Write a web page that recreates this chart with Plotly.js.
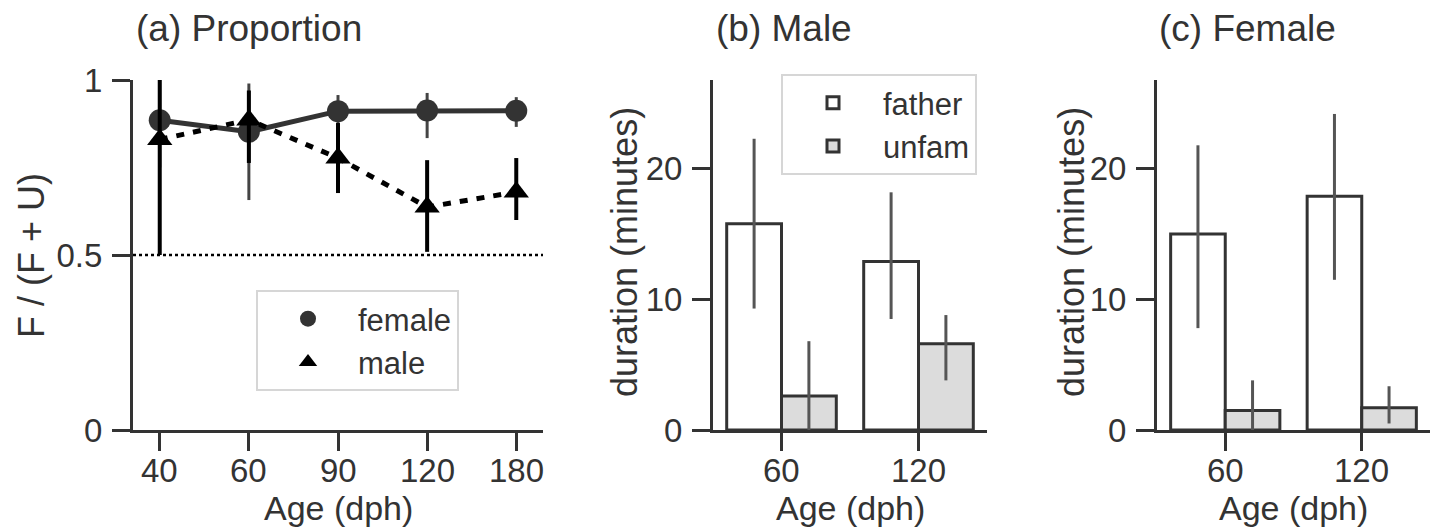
<!DOCTYPE html>
<html><head><meta charset="utf-8">
<script src="https://cdn.plot.ly/plotly-3.0.1.min.js"></script>
<style>html,body{margin:0;padding:0;background:#fff}#chart{width:1438px;height:529px}</style>
</head><body><div id="chart"></div>
<script>
// Panel (a) proportion data
const agesA = ['40', '60', '90', '120', '180'];
const femaleProp = [0.885, 0.852, 0.911, 0.913, 0.912];
const femaleLo   = [0.75, 0.657, 0.857, 0.834, 0.866];
const femaleHi   = [1.0, 0.99, 0.957, 0.963, 0.951];
const maleProp = [0.83, 0.886, 0.777, 0.637, 0.68];
const maleLo   = [0.5, 0.763, 0.677, 0.509, 0.6];
const maleHi   = [1.0, 0.97, 0.877, 0.771, 0.777];

// Panels (b),(c) duration data
const agesB = ['60', '120'];
const maleFather = [15.8, 12.9];
const maleFatherLo = [9.3, 8.5];
const maleFatherHi = [22.3, 18.2];
const maleUnfam = [2.6, 6.6];
const maleUnfamLo = [0.0, 3.8];
const maleUnfamHi = [6.8, 8.8];
const femaleFather = [15.0, 17.9];
const femaleFatherLo = [7.8, 11.5];
const femaleFatherHi = [21.8, 24.2];
const femaleUnfam = [1.5, 1.7];
const femaleUnfamLo = [0.0, 0.5];
const femaleUnfamHi = [3.8, 3.35];

// Tick labels
const propTicks = [0, 0.5, 1];
const propTickText = ['0', '0.5', '1'];
const durTicks = [0, 10, 20];
const durTickText = ['0', '10', '20'];

const FONT = 'Liberation Sans, Arial, sans-serif';
const INK = '#333333';

function errs(v, lo, hi, color, thick) {
  return {type: 'data', symmetric: false,
    array: hi.map((h, i) => h - v[i]),
    arrayminus: lo.map((l, i) => v[i] - l),
    width: 0, thickness: thick, color: color};
}

const traces = [
  {x: agesA, y: femaleProp, xaxis: 'x', yaxis: 'y', name: 'female', type: 'scatter', mode: 'lines+markers',
   line: {color: INK, width: 5}, marker: {symbol: 'circle', size: 22, color: INK},
   error_y: errs(femaleProp, femaleLo, femaleHi, '#444', 3), showlegend: false},
  {x: agesA, y: maleProp, xaxis: 'x', yaxis: 'y', name: 'male', type: 'scatter', mode: 'lines+markers',
   line: {color: '#000', width: 5, dash: '8px,9px'}, marker: {symbol: 'triangle-up', size: 22, color: '#000'},
   error_y: errs(maleProp, maleLo, maleHi, '#000', 4), showlegend: false},
  // legend entries for panel (a): markers only, as in the reference
  {x: [null], y: [null], xaxis: 'x', yaxis: 'y', name: 'female', type: 'scatter', mode: 'markers',
   marker: {symbol: 'circle', size: 22, color: INK}, legend: 'legend', legendgroup: 'f'},
  {x: [null], y: [null], xaxis: 'x', yaxis: 'y', name: 'male', type: 'scatter', mode: 'markers',
   marker: {symbol: 'triangle-up', size: 22, color: '#000'}, legend: 'legend', legendgroup: 'm'},
  {x: agesB, y: maleFather, xaxis: 'x2', yaxis: 'y2', name: 'father', type: 'bar',
   marker: {color: '#ffffff', line: {color: INK, width: 3}}, legendgroup: 'fa',
   error_y: errs(maleFather, maleFatherLo, maleFatherHi, '#555', 3), legend: 'legend2'},
  {x: agesB, y: maleUnfam, xaxis: 'x2', yaxis: 'y2', name: 'unfam', type: 'bar',
   marker: {color: '#dcdcdc', line: {color: INK, width: 3}}, legendgroup: 'un',
   error_y: errs(maleUnfam, maleUnfamLo, maleUnfamHi, '#555', 3), legend: 'legend2'},
  {x: agesB, y: femaleFather, xaxis: 'x3', yaxis: 'y3', name: 'father', type: 'bar', showlegend: false,
   marker: {color: '#ffffff', line: {color: INK, width: 3}},
   error_y: errs(femaleFather, femaleFatherLo, femaleFatherHi, '#555', 3)},
  {x: agesB, y: femaleUnfam, xaxis: 'x3', yaxis: 'y3', name: 'unfam', type: 'bar', showlegend: false,
   marker: {color: '#dcdcdc', line: {color: INK, width: 3}},
   error_y: errs(femaleUnfam, femaleUnfamLo, femaleUnfamHi, '#555', 3)}
];

const W = 1438, H = 529;
const px = v => v / W;
const py = v => (H - v) / H;

function xax(dom, range, anchor, cats) {
  return {domain: dom, range: range, type: 'category', anchor: anchor,
    categoryarray: cats, categoryorder: 'array', showticklabels: false,
    showline: true, linecolor: INK, linewidth: 3, ticks: 'outside', ticklen: 18, tickwidth: 3, tickcolor: INK,
    showgrid: false, zeroline: false, fixedrange: true};
}
function yax(range, vals, text, anchor) {
  return {domain: [py(430), py(80)], range: range, anchor: anchor,
    tickvals: vals, ticktext: text, ticklabelstandoff: 3,
    showline: true, linecolor: INK, linewidth: 3, ticks: 'outside', ticklen: 18, tickwidth: 3, tickcolor: INK,
    showgrid: false, zeroline: false, tickfont: {family: FONT, size: 33, color: INK}, fixedrange: true};
}

function ann(text, x, y, opts) {
  return Object.assign({text: text, x: px(x), y: py(y), xref: 'paper', yref: 'paper', showarrow: false,
    font: {family: FONT, size: 36, color: INK}, xanchor: 'center', yanchor: 'middle'}, opts || {});
}

// x tick labels placed by each panel's category axis (category index positions)
function xTickLabels(cats, xref) {
  return cats.map((c, i) => ({text: c, x: i, xref: xref, y: py(470), yref: 'paper', showarrow: false,
    xanchor: 'center', yanchor: 'middle', font: {family: FONT, size: 33, color: INK}}));
}

const legendBase = {xanchor: 'left', yanchor: 'top', bgcolor: '#fff',
  bordercolor: '#d6d6d6', borderwidth: 2, font: {family: FONT, size: 31, color: INK},
  itemwidth: 90, tracegroupgap: 0, traceorder: 'grouped'};

const ageFont = {family: FONT, size: 34, color: INK};

const layout = {
  width: W, height: H, margin: {l: 0, r: 0, t: 0, b: 0},
  paper_bgcolor: '#fff', plot_bgcolor: '#fff',
  font: {family: FONT, color: INK},
  barmode: 'group', bargap: 0.2, bargroupgap: 0,
  xaxis: xax([px(133), px(543)], [-0.3, 4.3], 'y', agesA),
  yaxis: yax([0, 1], propTicks, propTickText, 'x'),
  xaxis2: xax([px(713), px(987)], [-0.5, 1.5], 'y2', agesB),
  yaxis2: yax([0, 26.8], durTicks, durTickText, 'x2'),
  xaxis3: xax([px(1157), px(1430)], [-0.5, 1.5], 'y3', agesB),
  yaxis3: yax([0, 26.8], durTicks, durTickText, 'x3'),
  legend: Object.assign({x: px(256), y: py(290)}, legendBase),
  legend2: Object.assign({x: px(781), y: py(74)}, legendBase),
  shapes: [
    {type: 'line', xref: 'x domain', yref: 'y', x0: 0, x1: 1, y0: 0.5, y1: 0.5,
     line: {color: '#000', width: 2.5, dash: 'dot'}, layer: 'below'}
  ],
  annotations: [
    ann('(a) Proportion', 134, 29, {xanchor: 'left', font: {family: FONT, size: 37, color: INK}}),
    ann('(b) Male', 714, 29, {xanchor: 'left', font: {family: FONT, size: 37, color: INK}}),
    ann('(c) Female', 1157, 29, {xanchor: 'left', font: {family: FONT, size: 37, color: INK}}),
    ann('F / (F + U)', 32, 256, {textangle: -90}),
    ann('duration (minutes)', 624, 252, {textangle: -90}),
    ann('duration (minutes)', 1071, 252, {textangle: -90}),
    ann('Age (dph)', 338, 508, {font: ageFont}),
    ann('Age (dph)', 850, 508, {font: ageFont}),
    ann('Age (dph)', 1293, 508, {font: ageFont})
  ].concat(xTickLabels(agesA, 'x'), xTickLabels(agesB, 'x2'), xTickLabels(agesB, 'x3'))
};

Plotly.newPlot('chart', traces, layout, {staticPlot: true, displayModeBar: false});
</script></body></html>
